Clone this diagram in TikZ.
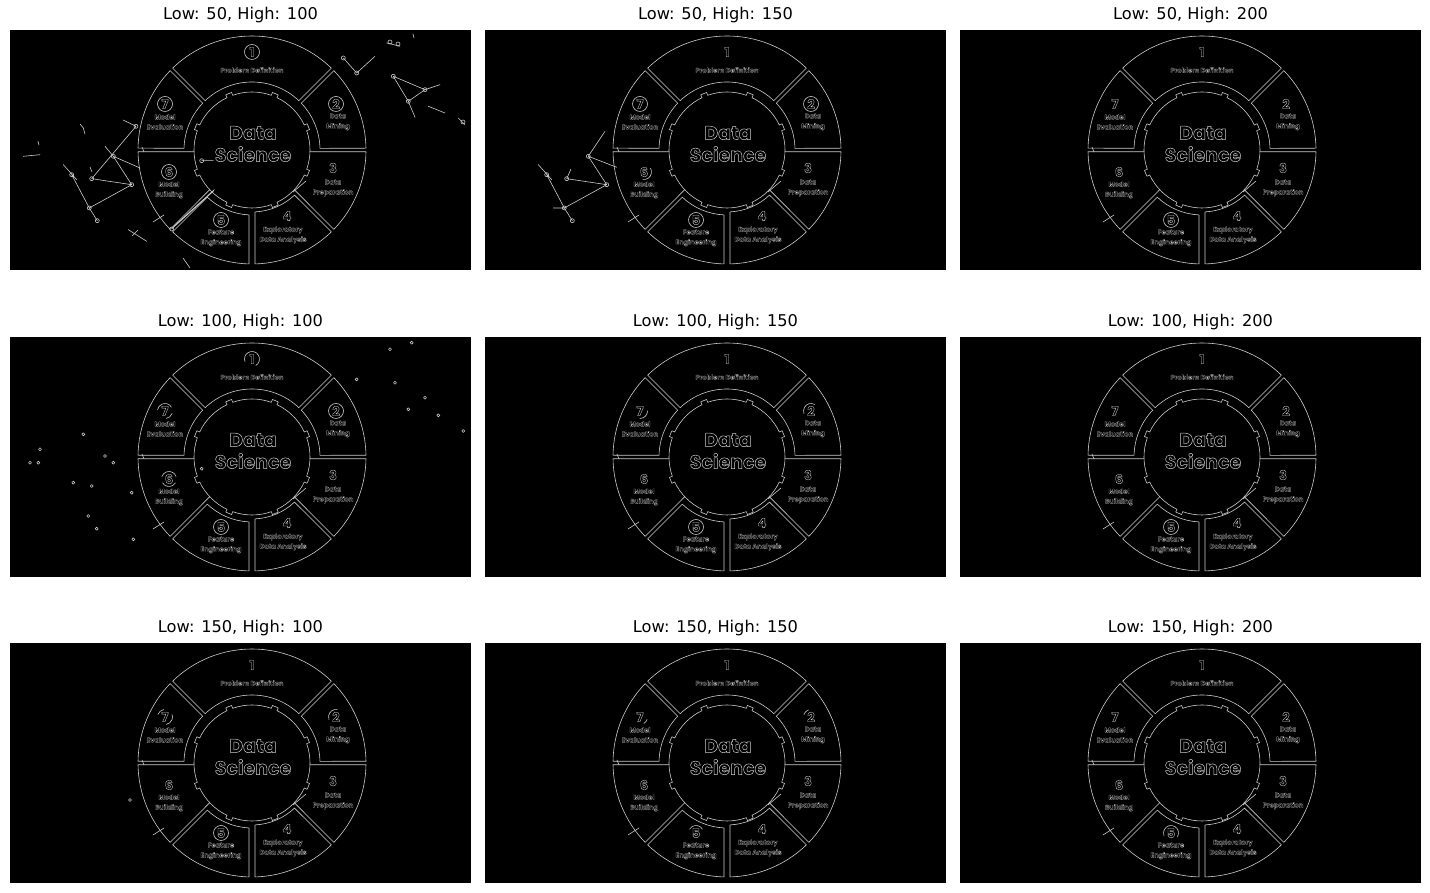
\documentclass[tikz,border=0pt]{standalone}
\usepackage{fontspec}
\setmainfont{DejaVu Sans}
\newfontfamily\wheelfont{Poppins}

\tikzset{
  edge/.style={draw=white!80!black, line width=0.3pt},
  panel/.style={fill=black},
  title/.style={font=\fontsize{8.1}{10}\selectfont, text=black, inner sep=0pt},
  hollow/.style={execute at begin node={\special{pdf:literal direct 1 Tr #1 w}},
                 execute at end node={\special{pdf:literal direct 0 Tr}}},
  stepnum/.style={font=\wheelfont\bfseries\fontsize{6.5}{7}\selectfont, text=white!80!black, inner sep=0pt, hollow=0.18},
  steplabel/.style={font=\wheelfont\bfseries\fontsize{3.3}{5}\selectfont, text=white!80!black, align=center, inner sep=0pt, hollow=0.1},
  hub/.style={font=\wheelfont\bfseries\fontsize{9.5}{11}\selectfont, text=white!80!black, align=center, inner sep=0pt, hollow=0.25},
}

% one edge-detected wheel, centred at the scope origin
\newcommand\drawwheel[2]{%
  % ring segments
  \draw[edge] (45.9:114) arc[start angle=45.9, end angle=134.1, radius=114] -- (133.5:68) arc[start angle=133.5, end angle=46.5, radius=68] -- cycle;
  \draw[edge] (0.9:114) arc[start angle=0.9, end angle=44.1, radius=114] -- (43.5:68) arc[start angle=43.5, end angle=1.4, radius=68] -- cycle;
  \draw[edge] (-1.7:58) -- (-0.9:114) arc[start angle=-0.9, end angle=-44.1, radius=114] -- (-43.2:58);
  \draw[edge] (-46.7:62) -- (-45.9:114) arc[start angle=-45.9, end angle=-88.5, radius=114] -- (-87.2:62) arc[start angle=-87.2, end angle=-46.7, radius=62];
  \draw[edge] (-91.5:114) arc[start angle=-91.5, end angle=-134.1, radius=114] -- (-133.4:65) arc[start angle=-133.4, end angle=-92.65, radius=65] -- cycle;
  \draw[edge] (-136.8:58) -- (-135.9:114) arc[start angle=-135.9, end angle=-179.1, radius=114] -- (-178.3:58);
  \draw[edge] (179.1:114) arc[start angle=179.1, end angle=135.9, radius=114] -- (136.5:68) arc[start angle=136.5, end angle=178.5, radius=68] -- cycle;
  % toothed hub
  \draw[edge] (-19.5:58) \foreach \a in {22.5,67.5,...,337.5} {
      arc[start angle=\a-42, end angle=\a-3, radius=58] -- (\a-3:61)
      arc[start angle=\a-3, end angle=\a+3, radius=61] -- (\a+3:58)} -- cycle;
  \draw[edge] (-99,-72) -- (-88,-65);
  \draw[edge] (41,-42) -- (54,-31);
  \draw[edge] (-110,3) -- (-108,-2);
  % texts
  \node[hub] (w#1-hub) at (1,6) {Data\\Science};
  \node[stepnum] (w#1-n1) at (0,98) {1};
  \node[stepnum] (w#1-n2) at (84,46) {2};
  \node[stepnum] (w#1-n3) at (81,-18) {3};
  \node[stepnum] (w#1-n4) at (35,-66) {4};
  \node[stepnum] (w#1-n5) at (-31,-70) {5};
  \node[stepnum] (w#1-n6) at (-83,-22) {6};
  \node[stepnum] (w#1-n7) at (-87,46) {7};
  \node[steplabel] (w#1-l1) at (0,80) {Problem Definition};
  \node[steplabel] (w#1-l2) at (86,28) {Data\\Mining};
  \node[steplabel] (w#1-l3) at (81,-38) {Data\\Preparation};
  \node[steplabel] (w#1-l4) at (31,-85) {Exploratory\\Data Analysis};
  \node[steplabel] (w#1-l5) at (-31,-88) {Feature\\Engineering};
  \node[steplabel] (w#1-l6) at (-83,-40) {Model\\Building};
  \node[steplabel] (w#1-l7) at (-87,28) {Model\\Evaluation};
  % rings round the step numbers
  \foreach \k/\s/\e in #2 {
    \draw[edge] (w#1-n\k.center) ++(\s:7.5) arc[start angle=\s, end angle=\e, radius=7.5];
  }
}

\begin{document}
\begin{tikzpicture}[x=0.5pt,y=0.5pt,line cap=round,line join=round]
  \useasboundingbox[fill=white] (0,0) rectangle (1430,893);

  \foreach \i/\px/\py/\lo/\hi/\rings in {
      1/10/623/50/100/{1/0/360,2/0/360,5/0/360,6/0/360,7/0/360},
      2/485/623/50/150/{2/0/360,5/0/360,7/0/360,6/-100/30},
      3/960/623/50/200/{5/0/360},
      4/10/316/100/100/{1/-60/200,2/0/360,5/0/360,6/20/160,6/-150/-30,7/30/170,7/-80/-20},
      5/485/316/100/150/{2/60/200,5/0/360,7/-90/0},
      6/960/316/100/200/{5/0/360},
      7/10/10/150/100/{2/80/200,5/0/360,7/-80/20,7/100/160},
      8/485/10/150/150/{2/110/160,5/30/150,7/-60/-20},
      9/960/10/150/200/{5/-30/200}} {
    \begin{scope}[shift={(\px,\py)}]
      \fill[panel] (0,0) rectangle (461,240);
      \node[title] (title\i) at (230.5,255) {Low: \lo, High: \hi};
      \begin{scope}[shift={(242,120)}]
        \drawwheel{\i}{\rings}
      \end{scope}
    \end{scope}
  }

  % stray edges, Low 50 / High 100
  \begin{scope}[shift={(10,623)}]
    \draw[edge] (126,143.7) -- (81.7,91.3) (126,143.7) -- (113,150)
      (103.3,113.7) -- (121.7,85.3) (81.7,91.3) -- (121.7,85.3)
      (103.3,113.7) -- (130,102) (95,123.7) -- (103.3,113.7)
      (61.7,95.3) -- (79.3,62) (79.3,62) -- (121.7,85.3) (79.3,62) -- (87.3,49.3)
      (53.3,105.3) -- (66.7,90.3) (191.7,109.3) -- (203.3,109.3)
      (161.7,41) -- (203.3,78.7) (163.5,43.5) -- (204.5,80.5)
      (70,146) -- (73.3,142) -- (75,136) (13.3,113.7) -- (30,115.3) (28,128.7) -- (29,125)
      (80,103) -- (82,98) (118.3,40.3) -- (136.7,28.7) (122,34) -- (128,40) (173,12) -- (180,2);
    \draw[edge] (376.7,227) -- (390,223.7) (333.3,212) -- (346.7,197) -- (365,213.7)
      (383.3,193.7) -- (415,180.3) -- (398.3,168.7) -- cycle (398.3,168.7) -- (405,152.7)
      (415,180.3) -- (430,185.3) (418.3,163.7) -- (435,157) (448.3,152) -- (455,145.3)
      (403,236) -- (404,232);
    \foreach \p in {(126,143.7),(103.3,113.7),(81.7,91.3),(121.7,85.3),(61.7,95.3),(79.3,62),(87.3,49.3),
                    (191.7,109.3),(161.7,41),(380,228),(388,226),(333.3,212),(346.7,197),
                    (383.3,193.7),(415,180.3),(398.3,168.7),(453,148)}
      \draw[edge] \p circle[radius=2];
  \end{scope}

  % stray edges, Low 50 / High 150
  \begin{scope}[shift={(485,623)}]
    \draw[edge] (120,138.7) -- (103.3,113.7) -- (121.7,85.3) (103.3,113.7) -- (131.7,102.7)
      (81.7,91.3) -- (121.7,85.3) (61.7,95.3) -- (79.3,62) -- (121.7,85.3) (79.3,62) -- (87.3,49.3)
      (53.3,105.3) -- (66.7,90.3) (68.3,62) -- (79.3,62) (81.7,91.3) -- (86,101);
    \foreach \p in {(103.3,113.7),(81.7,91.3),(121.7,85.3),(79.3,62),(61.7,95.3),(87.3,49.3)}
      \draw[edge] \p circle[radius=2];
  \end{scope}

  % stray dots, Low 100 / High 100
  \begin{scope}[shift={(10,316)}]
    \foreach \p in {(73.3,142.7),(30,127.7),(20,114.3),(28.3,114.3),(95,121),(103.3,114.3),(63.3,94.3),
                    (81.7,91),(121.7,84.3),(78.3,61),(86.7,48.3),(123.3,37.7),(191.7,108.3),
                    (380,227.7),(401.7,234.3),(385,194.3),(415,179.3),(398.3,167.7),(428.3,161.7),
                    (453.3,146),(346.7,197.7)}
      \draw[edge] \p circle[radius=1.5];
  \end{scope}

  \draw[edge] (130,93) circle[radius=1.5];
\end{tikzpicture}
\end{document}
